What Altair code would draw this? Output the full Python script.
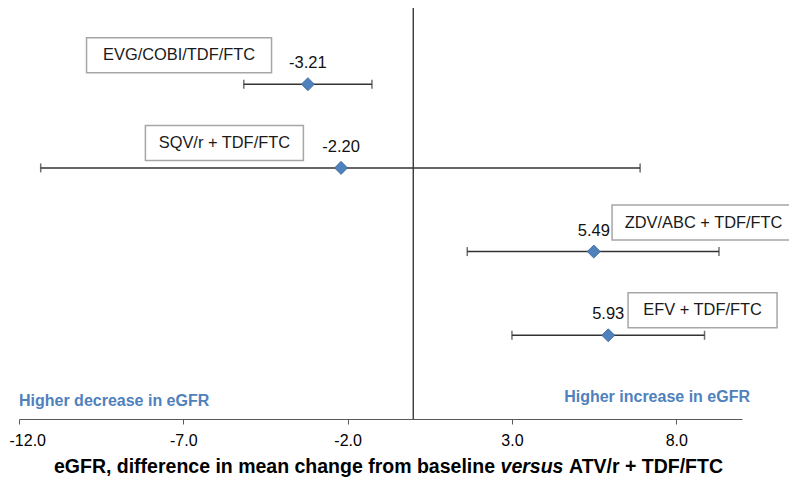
import altair as alt
import pandas as pd

# ---- data ----
regimens = ["EVG/COBI/TDF/FTC", "SQV/r + TDF/FTC", "ZDV/ABC + TDF/FTC", "EFV + TDF/FTC"]
estimates = [-3.21, -2.20, 5.49, 5.93]
ci_low = [-5.16, -11.34, 1.64, 3.00]
ci_high = [-1.26, 6.90, 9.30, 8.86]
rows = [1, 2, 3, 4]
x_ticks = [-12, -7, -2, 3, 8]

# ---- layout (annotation boxes) ----
box_center = [-7.13, -5.75, 8.83, 8.80]      # x, data units
box_half_px = [92.5, 79.0, 91.5, 74.5]       # half widths, px
box_dy_px = [-29, -25, -29, -25]             # vertical offset from the point, px
BOX_HALF_H = 17.5

W, H = 723, 411
X_MIN, X_MAX = -12, 10
Y_MIN, Y_MAX = 0.09, 5.0
px_x = W / (X_MAX - X_MIN)
px_y = H / (Y_MAX - Y_MIN)

FONT = "Liberation Sans"
BLUE = "#4F81BD"
LINE = "#333333"

df = pd.DataFrame({
    "regimen": regimens,
    "est": estimates,
    "lo": ci_low,
    "hi": ci_high,
    "row": rows,
    "label": [f"{v:.2f}" for v in estimates],
})
df["bx"] = [c - h / px_x for c, h in zip(box_center, box_half_px)]
df["bx2"] = [c + h / px_x for c, h in zip(box_center, box_half_px)]
df["bc"] = box_center
df["by"] = [r + (d - BOX_HALF_H) / px_y for r, d in zip(rows, box_dy_px)]
df["by2"] = [r + (d + BOX_HALF_H) / px_y for r, d in zip(rows, box_dy_px)]
df["bym"] = [r + d / px_y for r, d in zip(rows, box_dy_px)]

xscale = alt.Scale(domain=[X_MIN, X_MAX], nice=False, zero=False)
yscale = alt.Scale(domain=[Y_MIN, Y_MAX], reverse=True, nice=False, zero=False)

xenc = alt.X("est:Q", scale=xscale, axis=alt.Axis(
    values=x_ticks, grid=False, title=None,
    labelExpr="(datum.value < 0 ? '-' : '') + format(abs(datum.value), '.1f')",
    domainColor="#595959", tickColor="#595959", tickSize=5,
    labelFont=FONT, labelFontSize=16, labelColor="#000000",
    labelPadding=8, labelFlush=True, labelFlushOffset=10))
yenc = alt.Y("row:Q", scale=yscale, axis=None)

base = alt.Chart(df)

zero_line = base.mark_rule(color="#404040", strokeWidth=1).encode(
    x=alt.datum(0, scale=xscale), y=alt.value(0), y2=alt.value(H))

ci = base.mark_rule(color=LINE, strokeWidth=1.5).encode(
    x=alt.X("lo:Q", scale=xscale), x2="hi:Q", y=yenc)
cap_lo = base.mark_tick(color=LINE, thickness=1.5, size=9, orient="vertical").encode(
    x=alt.X("lo:Q", scale=xscale), y=yenc)
cap_hi = base.mark_tick(color=LINE, thickness=1.5, size=9, orient="vertical").encode(
    x=alt.X("hi:Q", scale=xscale), y=yenc)

points = base.mark_point(shape="diamond", filled=True, size=170, color=BLUE,
                         stroke="#3A6597", strokeWidth=0.8, opacity=1).encode(
    x=xenc, y=yenc)

values = base.mark_text(font=FONT, fontSize=16.5, color="#111111", dy=-21,
                        baseline="middle", align="center").encode(
    x=alt.X("est:Q", scale=xscale), y=yenc, text="label:N")

boxes = base.mark_rect(fill="white", stroke="#A6A6A6", strokeWidth=1.5).encode(
    x=alt.X("bx:Q", scale=xscale), x2="bx2:Q",
    y=alt.Y("by:Q", scale=yscale), y2="by2:Q")
box_text = base.mark_text(font=FONT, fontSize=16.4, color="#1a1a1a",
                          baseline="middle", align="center").encode(
    x=alt.X("bc:Q", scale=xscale), y=alt.Y("bym:Q", scale=yscale), text="regimen:N")

ann = alt.Chart(pd.DataFrame({"a": [0]}))
dec = ann.mark_text(font=FONT, fontSize=16, fontWeight="bold", color=BLUE,
                    align="left", baseline="middle").encode(
    x=alt.value(0), y=alt.value(393), text=alt.value("Higher decrease in eGFR"))
inc = ann.mark_text(font=FONT, fontSize=16, fontWeight="bold", color=BLUE,
                    align="right", baseline="middle").encode(
    x=alt.value(731), y=alt.value(389), text=alt.value("Higher increase in eGFR"))

TY = H + 48
t1 = ann.mark_text(font=FONT, fontSize=19.5, fontWeight="bold", color="#000000",
                   align="right", baseline="middle").encode(
    x=alt.value(476), y=alt.value(TY),
    text=alt.value("eGFR, difference in mean change from baseline"))
t2 = ann.mark_text(font=FONT, fontSize=19.5, fontWeight="bold", fontStyle="italic",
                   color="#000000", align="center", baseline="middle").encode(
    x=alt.value(513), y=alt.value(TY), text=alt.value("versus"))
t3 = ann.mark_text(font=FONT, fontSize=19.5, fontWeight="bold", color="#000000",
                   align="left", baseline="middle").encode(
    x=alt.value(550), y=alt.value(TY), text=alt.value("ATV/r + TDF/FTC"))

chart = alt.layer(
    zero_line, ci, cap_lo, cap_hi, points, values, boxes, box_text, dec, inc, t1, t2, t3
).properties(
    width=W, height=H,
    autosize=alt.AutoSizeParams(type="none"),
    padding={"left": 11, "top": 0, "right": 47, "bottom": 60},
).configure_view(stroke=None)

chart.save("out.html", embed_options={"renderer": "svg", "actions": False})
